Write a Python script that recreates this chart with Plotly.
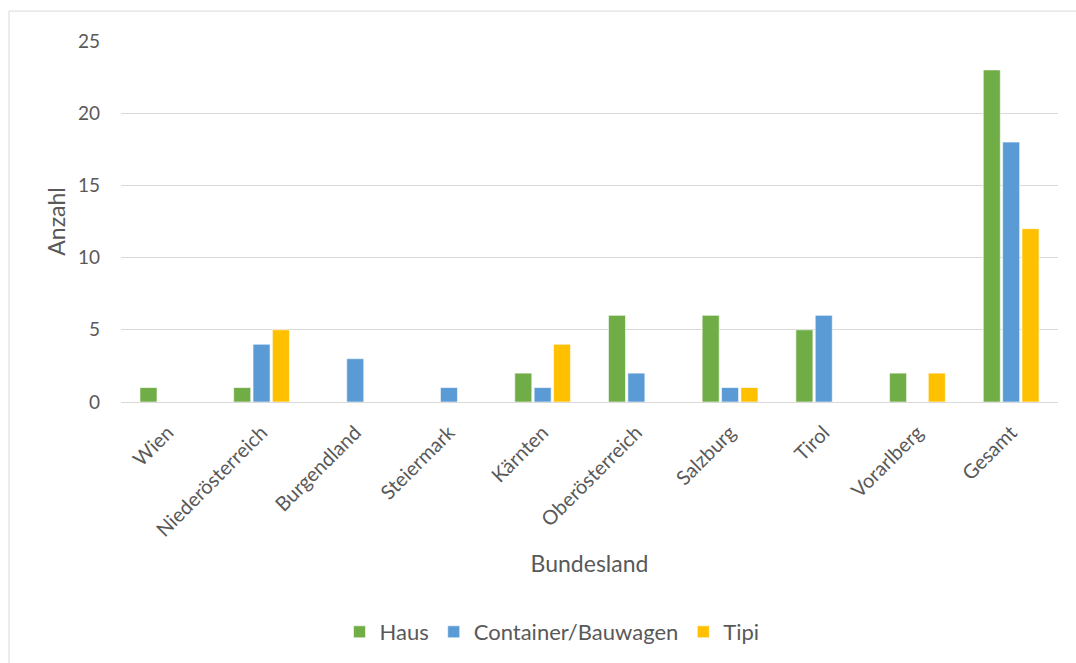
import plotly.graph_objects as go

categories = ["Wien", "Niederösterreich", "Burgendland", "Steiermark", "Kärnten",
              "Oberösterreich", "Salzburg", "Tirol", "Vorarlberg", "Gesamt"]
haus = [1, 1, 0, 0, 2, 6, 6, 5, 2, 23]
container = [0, 4, 3, 1, 1, 2, 1, 6, 0, 18]
tipi = [0, 5, 0, 0, 4, 0, 1, 0, 2, 12]
y_ticks = [0, 5, 10, 15, 20, 25]

FONT = "Lato, Calibri, Carlito, sans-serif"
TXT = "#595959"

fig = go.Figure()
for name, vals, col in [("Haus", haus, "#70AD47"),
                        ("Container/Bauwagen", container, "#5B9BD5"),
                        ("Tipi", tipi, "#FFC000")]:
    fig.add_trace(go.Bar(x=categories, y=vals, name=name,
                         marker=dict(color=col, line=dict(color="white", width=0.6))))

W, H = 1076, 663
L, R, T, B = 121, 18, 41, 260
pw, ph = W - L - R, H - T - B

fig.update_layout(
    width=W, height=H,
    margin=dict(l=L, r=R, t=T, b=B, pad=0),
    paper_bgcolor="white", plot_bgcolor="white",
    font=dict(family=FONT, color=TXT, size=19),
    barmode="group", bargap=0.38, bargroupgap=0.12,
    showlegend=True,
    legend=dict(orientation="h", x=(552 - L) / pw, xanchor="center",
                y=(T + ph - 632) / ph, yanchor="middle",
                font=dict(size=22, color=TXT), itemwidth=30,
                traceorder="normal"),
    xaxis=dict(tickangle=-45, showgrid=False, showline=True, linecolor="#D9D9D9",
               linewidth=1, tickfont=dict(size=20, color=TXT), ticklabelstandoff=10,
               title=dict(text="Bundesland", font=dict(size=23, color=TXT), standoff=16),
               ticks="", fixedrange=True),
    yaxis=dict(range=[0, 25], tickvals=y_ticks, showgrid=True, gridcolor="#D9D9D9",
               gridwidth=1, zeroline=False, showline=False,
               tickfont=dict(size=19, color=TXT), ticklabelstandoff=20,
               title=dict(text="Anzahl", font=dict(size=23, color=TXT), standoff=5),
               fixedrange=True),
    shapes=[dict(type="rect", xref="paper", yref="paper",
                 x0=(9 - L) / pw, x1=1.2, y0=-1.0, y1=1 + (T - 11) / ph,
                 line=dict(color="#D9D9D9", width=1), fillcolor="rgba(0,0,0,0)",
                 layer="below")],
)

fig.write_html("out.html")
